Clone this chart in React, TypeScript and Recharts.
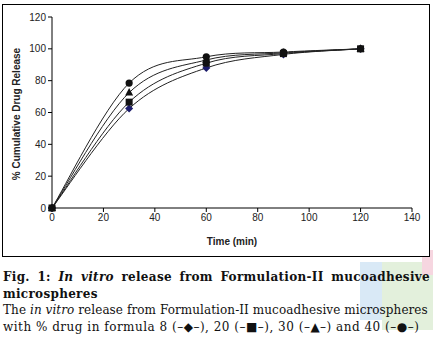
import React from 'react';
import { LineChart, Line, XAxis, YAxis } from 'recharts';

const times = [0, 30, 60, 90, 120];
const formula8 = [0, 62.5, 88, 96.5, 100];
const formula20 = [0, 66.5, 91, 97, 100];
const formula30 = [0, 72.5, 93, 97.5, 100];
const formula40 = [0, 78.5, 95, 98, 100];
const xTicks = [0, 20, 40, 60, 80, 100, 120, 140];
const yTicks = [0, 20, 40, 60, 80, 100, 120];

const data = times.map((t, i) => ({
  t,
  f8: formula8[i],
  f20: formula20[i],
  f30: formula30[i],
  f40: formula40[i],
}));

// Excel-like smoothed line (Catmull-Rom style Bezier)
const smoothCurve = (context: any) => {
  let pts: number[][] = [];
  return {
    areaStart() {},
    areaEnd() {},
    lineStart() {
      pts = [];
    },
    point(x: number, y: number) {
      pts.push([+x, +y]);
    },
    lineEnd() {
      if (!pts.length) return;
      context.moveTo(pts[0][0], pts[0][1]);
      for (let i = 0; i < pts.length - 1; i++) {
        const p0 = pts[i - 1] || pts[i];
        const p1 = pts[i];
        const p2 = pts[i + 1];
        const p3 = pts[i + 2] || pts[i + 1];
        const c1x = p1[0] + (p2[0] - p0[0]) / 6;
        const c1y = p1[1] + (p2[1] - p0[1]) / 6;
        const c2x = p2[0] - (p3[0] - p1[0]) / 6;
        const c2y = p2[1] - (p3[1] - p1[1]) / 6;
        context.bezierCurveTo(c1x, c1y, c2x, c2y, p2[0], p2[1]);
      }
    },
  };
};

const Diamond = (p: any) => {
  const { cx, cy, index } = p;
  const r = 4;
  return <path key={`d${index}`} d={`M${cx},${cy - r}L${cx + r},${cy}L${cx},${cy + r}L${cx - r},${cy}Z`} fill="#1b1b6a" />;
};
const Square = (p: any) => {
  const { cx, cy, index } = p;
  return <rect key={`s${index}`} x={cx - 3.5} y={cy - 3.5} width={7} height={7} fill="#111" />;
};
const Triangle = (p: any) => {
  const { cx, cy, index } = p;
  return <path key={`t${index}`} d={`M${cx},${cy - 4.5}L${cx + 4},${cy + 3}L${cx - 4},${cy + 3}Z`} fill="#111" />;
};
const Circle = (p: any) => {
  const { cx, cy, index } = p;
  return <circle key={`c${index}`} cx={cx} cy={cy} r={3.6} fill="#111" />;
};

const tickStyle = { fontSize: 10, fill: '#222', fontFamily: 'Liberation Sans, Arial, sans-serif' };
const titleStyle = { fontSize: 10, fontWeight: 'bold' as const, fill: '#222', fontFamily: 'Liberation Sans, Arial, sans-serif' };

export default function App() {
  return (
    <div style={{ position: 'absolute', left: 0, top: 0, width: 433, height: 359, background: '#fff', overflow: 'hidden' }}>
      <div style={{ position: 'absolute', left: 360, top: 262, width: 60, height: 58, background: '#d9e9f6' }} />
      <div style={{ position: 'absolute', left: 382, top: 262, width: 51, height: 68, background: '#e3f0dc' }} />
      <div style={{ position: 'absolute', left: 422, top: 250, width: 11, height: 25, background: '#f6d6e0' }} />
      <div style={{ position: 'absolute', left: 2, top: 4, width: 426, height: 251, border: '1px solid #000', background: '#fff' }} />
      <div style={{ position: 'absolute', left: 0, top: 0 }}>
        <LineChart width={433} height={260} data={data} margin={{ top: 17, right: 21, bottom: 22, left: 22 }}>
          <XAxis
            dataKey="t"
            type="number"
            domain={[0, 140]}
            ticks={xTicks}
            tick={tickStyle}
            tickSize={4}
            stroke="#000"
            height={30}
            tickLine={{ stroke: '#000' }}
          />
          <YAxis
            type="number"
            domain={[0, 120]}
            ticks={yTicks}
            tick={tickStyle}
            tickSize={4}
            stroke="#000"
            width={30}
            tickLine={{ stroke: '#000' }}
          />
          <Line type={smoothCurve as any} dataKey="f8" stroke="#222" strokeWidth={1} dot={Diamond} isAnimationActive={false} />
          <Line type={smoothCurve as any} dataKey="f30" stroke="#222" strokeWidth={1} dot={Triangle} isAnimationActive={false} />
          <Line type={smoothCurve as any} dataKey="f40" stroke="#222" strokeWidth={1} dot={Circle} isAnimationActive={false} />
          <Line type={smoothCurve as any} dataKey="f20" stroke="#222" strokeWidth={1} dot={Square} isAnimationActive={false} />
          <text x={17} y={114} transform="rotate(-90 17 114)" textAnchor="middle" dominantBaseline="middle" style={titleStyle}>
            % Cumulative Drug Release
          </text>
          <text x={232} y={242} textAnchor="middle" dominantBaseline="middle" style={titleStyle}>
            Time (min)
          </text>
        </LineChart>
      </div>
      <div style={{ position: 'absolute', left: 3, top: 269, width: 427, fontFamily: 'DejaVu Serif, serif', fontSize: 12, lineHeight: '16.5px', color: '#111', whiteSpace: 'nowrap' }}>
        <div style={{ fontWeight: 'bold', textAlign: 'justify', textAlignLast: 'justify', letterSpacing: 0.3 }}>
          Fig. 1: <i>In vitro</i> release from Formulation-II mucoadhesive
        </div>
        <div style={{ fontWeight: 'bold', letterSpacing: 0.3 }}>microspheres</div>
        <div style={{ letterSpacing: 0.08 }}>
          The <i>in vitro</i> release from Formulation-II mucoadhesive microspheres
        </div>
        <div style={{ letterSpacing: 0.5 }}>
          with % drug in formula 8 (–◆–), 20 (–■–), 30 (–▲–) and 40 (–●–)
        </div>
      </div>
    </div>
  );
}
